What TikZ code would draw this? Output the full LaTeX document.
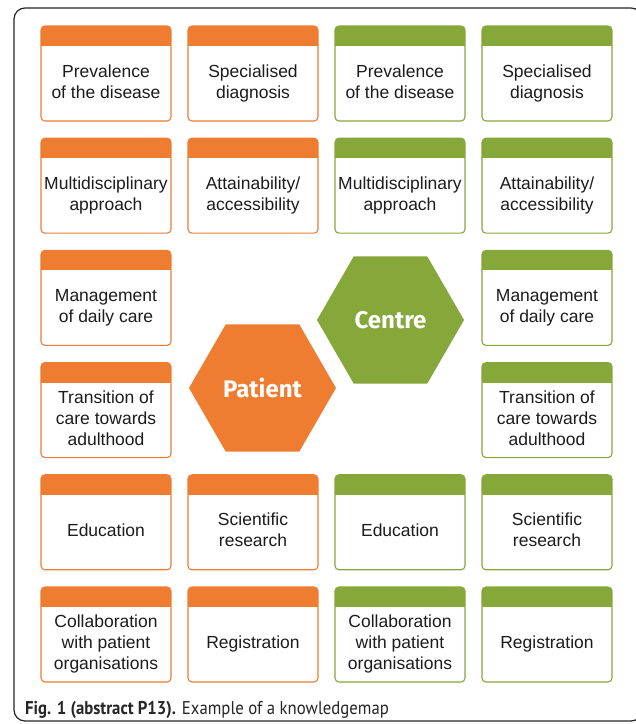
\documentclass[tikz,border=0pt]{standalone}
\usepackage{fontspec}
\setmainfont{Liberation Sans}
\newfontfamily\hexfont{Fira Sans}
\newfontfamily\capfont{PT Sans}
\usetikzlibrary{shapes.geometric}
\definecolor{orng}{HTML}{EE7D32}
\definecolor{grn}{HTML}{86A83B}
\definecolor{txt}{HTML}{1C1C1C}
\tikzset{
  kb/.style={draw, line width=1.1pt, rounded corners=4pt, minimum width=130pt, minimum height=95pt, inner sep=0pt, outer sep=0pt, fill=white},
  kbtext/.style={text=txt, align=center, font=\fontsize{17.5}{21}\selectfont, inner sep=0pt},
  hexa/.style={regular polygon, regular polygon sides=6, minimum size=147pt, inner sep=0pt, outer sep=0pt, text=white, font=\hexfont\bfseries\fontsize{24}{28}\selectfont},
}
% name, x-left, y-top (image px, downward), colour, text
\newcommand\kbox[5]{%
  \node[kb, draw=#4] (#1) at (#2+65, 724-#3-47.5) {};
  \begin{scope}
    \clip[rounded corners=4pt] (#1.south west) rectangle (#1.north east);
    \fill[#4] (#1.north west) rectangle ([yshift=-20pt]#1.north east);
  \end{scope}
  \node[kbtext] (#1t) at ([yshift=-10pt]#1.center) {\strut#5\strut};
}
\begin{document}
\begin{tikzpicture}[x=1pt,y=1pt]
\clip (0,0) rectangle (636,724);
\fill[white] (0,0) rectangle (636,724);
\draw[line width=1.2pt, black!85, rounded corners=11pt] (14,3) rectangle (642,716);
% row 1
\kbox{a1}{41}{26}{orng}{Prevalence\\of the disease}
\kbox{a2}{188}{26}{orng}{Specialised\\diagnosis}
\kbox{a3}{335}{26}{grn}{Prevalence\\of the disease}
\kbox{a4}{482}{26}{grn}{Specialised\\diagnosis}
% row 2
\kbox{b1}{41}{138.2}{orng}{Multidisciplinary\\approach}
\kbox{b2}{188}{138.2}{orng}{Attainability/\\accessibility}
\kbox{b3}{335}{138.2}{grn}{Multidisciplinary\\approach}
\kbox{b4}{482}{138.2}{grn}{Attainability/\\accessibility}
% row 3
\kbox{c1}{41}{250.4}{orng}{Management\\of daily care}
\kbox{c4}{482}{250.4}{grn}{Management\\of daily care}
% row 4
\kbox{d1}{41}{362.6}{orng}{Transition of\\care towards\\adulthood}
\kbox{d4}{482}{362.6}{grn}{Transition of\\care towards\\adulthood}
% row 5
\kbox{e1}{41}{474.8}{orng}{Education}
\kbox{e2}{188}{474.8}{orng}{Scientific\\research}
\kbox{e3}{335}{474.8}{grn}{Education}
\kbox{e4}{482}{474.8}{grn}{Scientific\\research}
% row 6
\kbox{f1}{41}{587}{orng}{Collaboration\\with patient\\organisations}
\kbox{f2}{188}{587}{orng}{Registration}
\kbox{f3}{335}{587}{grn}{Collaboration\\with patient\\organisations}
\kbox{f4}{482}{587}{grn}{Registration}
% hexagons
\node[hexa, fill=grn] (centre) at (390.5,404) {Centre};
\node[hexa, fill=orng] (patient) at (262.5,336) {Patient};
% caption
\node[anchor=base west, inner sep=0pt, text=black!85, font=\capfont\fontsize{18.5}{22}\selectfont] (cap) at (25,9.7) {\scalebox{0.905}[1]{\textbf{Fig. 1 (abstract P13).} Example of a knowledgemap}};
\end{tikzpicture}
\end{document}
